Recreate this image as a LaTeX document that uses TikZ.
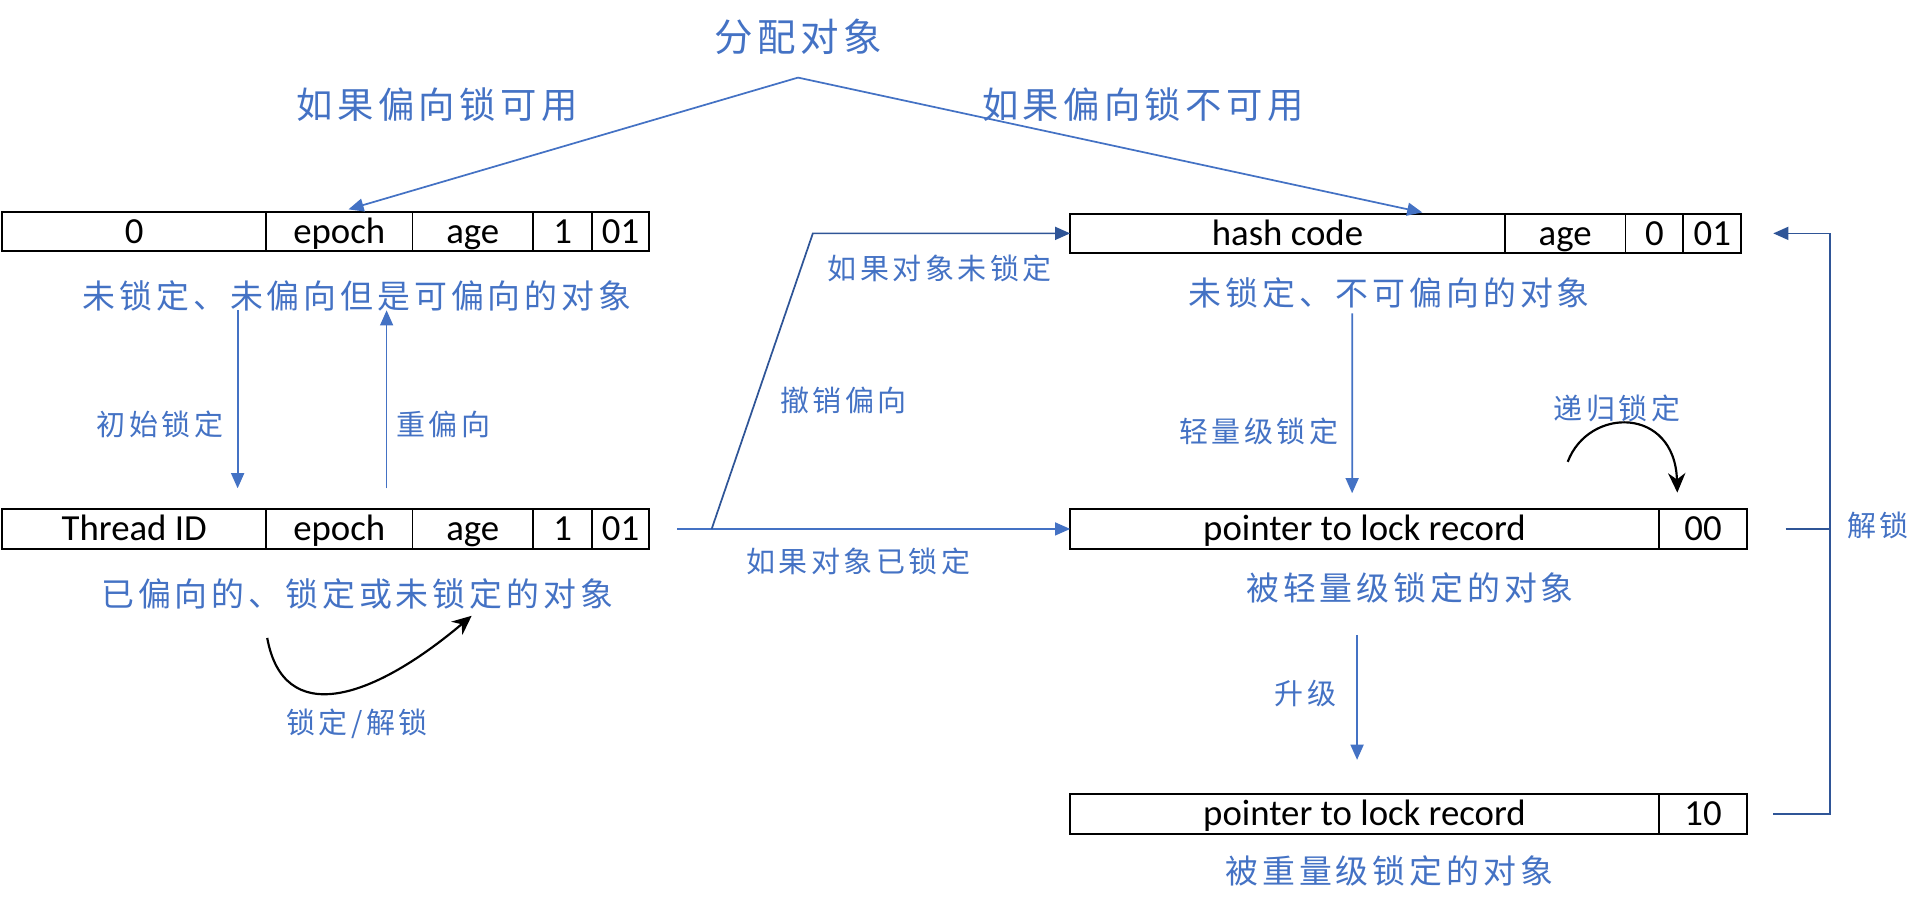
\documentclass[tikz,border=0pt]{standalone}
\usepackage{fontspec}
\setmainfont{Carlito}
\newfontfamily\cjk[LetterSpace=12]{Noto Sans CJK SC}
\usepackage{xcolor}
\definecolor{textblue}{RGB}{68,114,196}
\definecolor{lineblue}{RGB}{68,114,196}
\definecolor{darkblue}{RGB}{47,85,151}
\usetikzlibrary{arrows.meta}
\usetikzlibrary{positioning}

\begin{document}
\begin{tikzpicture}[x=0.02cm, y=-0.02cm,
	cell/.style={draw=black, line width=0.9pt, minimum height=0.64cm, inner sep=0pt, outer sep=0pt,
		text height=13pt, text depth=2pt, font=\fontsize{17}{20}\selectfont},
	captext/.style={text=textblue, inner sep=0pt, font=\cjk\fontsize{15.2}{18}\selectfont},
	note/.style={text=textblue, inner sep=0pt, font=\cjk\fontsize{13.4}{16}\selectfont},
	arr/.style={draw=lineblue, line width=0.8pt, -{Triangle[length=7pt,width=6pt]}},
	darr/.style={draw=darkblue, line width=0.8pt, -{Triangle[length=7pt,width=6pt]}},
	curv/.style={draw=black, line width=1pt, -{Stealth[length=9pt,width=8pt]}}]
		\useasboundingbox (0,0) rectangle (1568,741);
		
		%title
		\node[text=textblue, inner sep=0pt, font=\cjk\fontsize{17.8}{21}\selectfont] (alloc) at (648,30) {分配对象};
		\coordinate (apex) at (648,63);
		
		%biasable, unlocked
		\node[cell, minimum width=4.28cm, anchor=west] (a0) at (2,188) {0};
		\node[cell, minimum width=2.38cm, right=0pt of a0] (a1) {epoch};
		\node[cell, minimum width=1.96cm, right=0pt of a1] (a2) {age};
		\node[cell, minimum width=0.96cm, right=0pt of a2] (a3) {1};
		\node[cell, minimum width=0.92cm, right=0pt of a3] (a4) {01};
		\node[captext] (c1) at (290,240) {未锁定、未偏向但是可偏向的对象};
		
		%biased
		\node[cell, minimum width=4.28cm, anchor=west] (t0) at (2,429.5) {Thread ID};
		\node[cell, minimum width=2.38cm, right=0pt of t0] (t1) {epoch};
		\node[cell, minimum width=1.96cm, right=0pt of t1] (t2) {age};
		\node[cell, minimum width=0.96cm, right=0pt of t2] (t3) {1};
		\node[cell, minimum width=0.92cm, right=0pt of t3] (t4) {01};
		\node[captext] (c2) at (290,482) {已偏向的、锁定或未锁定的对象};
		
		%unlocked, not biasable
		\node[cell, minimum width=7.06cm, anchor=west] (h0) at (869,189.5) {hash code};
		\node[cell, minimum width=1.96cm, right=0pt of h0] (h1) {age};
		\node[cell, minimum width=0.94cm, right=0pt of h1] (h2) {0};
		\node[cell, minimum width=0.94cm, right=0pt of h2] (h3) {01};
		\node[captext] (c3) at (1128,238) {未锁定、不可偏向的对象};
		
		%thin lock
		\node[cell, minimum width=9.56cm, anchor=west] (l0) at (869,429.5) {pointer to lock record};
		\node[cell, minimum width=1.44cm, right=0pt of l0] (l1) {00};
		\node[captext] (c4) at (1145,477) {被轻量级锁定的对象};
		
		%fat lock
		\node[cell, minimum width=9.56cm, anchor=west] (w0) at (869,661) {pointer to lock record};
		\node[cell, minimum width=1.44cm, right=0pt of w0] (w1) {10};
		\node[captext] (c5) at (1128,707) {被重量级锁定的对象};
		
		%labels
		\node[text=textblue, inner sep=0pt, font=\cjk\fontsize{16.8}{20}\selectfont] (yes) at (355,85) {如果偏向锁可用};
		\node[text=textblue, inner sep=0pt, font=\cjk\fontsize{16.8}{20}\selectfont] (no) at (928,85) {如果偏向锁不可用};
		\node[note] (n1) at (130,345) {初始锁定};
		\node[note] (n2) at (360,345) {重偏向};
		\node[note] (n3) at (290,588) {锁定/解锁};
		\node[note] (n4) at (763,218) {如果对象未锁定};
		\node[note] (n5) at (685,325) {撤销偏向};
		\node[note] (n6) at (697,456) {如果对象已锁定};
		\node[note] (n7) at (1022,350) {轻量级锁定};
		\node[note] (n8) at (1313,332) {递归锁定};
		\node[note] (n9) at (1060,563) {升级};
		\node[note] (n10) at (1525,427) {解锁};
		
		%allocation
		\draw[arr] (apex) -- ([xshift=0.15cm,yshift=0.04cm]a1.north);
		\draw[arr] (apex) -- ([xshift=2.19cm,yshift=0.02cm]h0.north);
		
		%bias / rebias
		\draw[arr] ([xshift=1.68cm,yshift=-0.96cm]a0.south) -- ([xshift=1.68cm,yshift=0.34cm]t0.north);
		\draw[arr] ([xshift=0.77cm,yshift=0.34cm]t1.north) -- ([xshift=0.77cm,yshift=-0.96cm]a1.south);
		
		%revoke bias
		\draw[arr] ([xshift=0.46cm]t4.east) -- (l0.west);
		\draw[darr] ([xshift=1.02cm]t4.east) -- ([xshift=-4.18cm]h0.west) -- (h0.west);
		
		%lock / inflate
		\draw[arr] ([xshift=1.05cm,yshift=-0.98cm]h0.south) -- ([xshift=-0.20cm,yshift=0.26cm]l0.north);
		\draw[arr] ([xshift=-0.12cm,yshift=-1.40cm]l0.south) -- ([xshift=-0.12cm,yshift=0.56cm]w0.north);
		
		%unlock
		\draw[darr] ([xshift=0.42cm]w1.east) -- ++(46,0) |- ([xshift=0.52cm]h3.east);
		\draw[darr, -] ([xshift=0.62cm]l1.east) -- ++(36,0);
		
		%black curves
		\draw[curv] (217,518) .. controls (230,590) and (300,570) .. (383,500);
		\draw[curv] (1273,375) .. controls (1290,330) and (1360,330) .. (1362,400);
	\end{tikzpicture}
\end{document}
